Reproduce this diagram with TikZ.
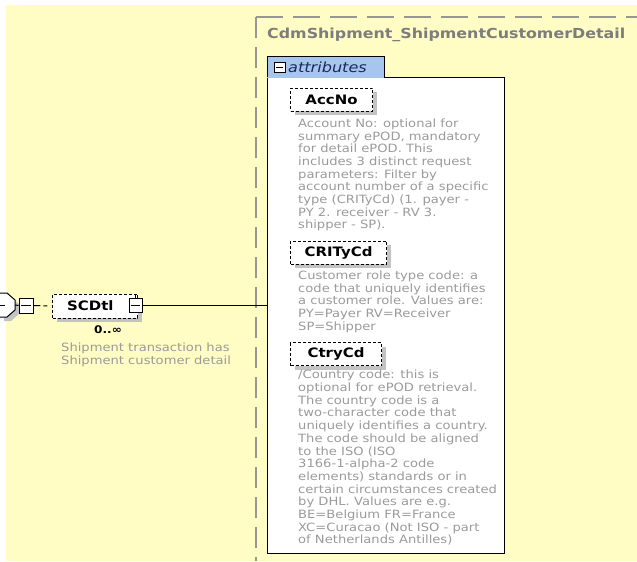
\documentclass[tikz,border=0pt]{standalone}
\usepackage{fontspec}
\setmainfont{DejaVu Sans}
\newfontfamily\xfont[FakeStretch=1.15]{DejaVu Sans}
\usetikzlibrary{shadows}
\definecolor{bgyellow}{RGB}{255,253,196}
\definecolor{tabblue}{RGB}{166,198,238}
\definecolor{descgray}{RGB}{155,155,155}
\definecolor{framegray}{RGB}{150,150,150}
\definecolor{titlegray}{RGB}{125,125,125}
\definecolor{shadowgray}{RGB}{195,195,195}
\definecolor{tabtext}{RGB}{30,40,90}
\begin{document}
\begin{tikzpicture}[x=1pt,y=-1pt,
 attrbox/.style={draw=black, line width=1pt, dash pattern=on 3pt off 2pt, fill=white,
   minimum height=23pt, inner sep=0pt, anchor=west,
   font=\xfont\bfseries\fontsize{13}{15}\selectfont,
   drop shadow={shadow xshift=4pt, shadow yshift=-4pt, fill=shadowgray, opacity=1}},
 desc/.style={anchor=north west, inner sep=0pt, align=left, text=descgray,
   font=\xfont\fontsize{11.4}{12.7}\selectfont},
 icon/.style={draw=black, line width=0.9pt, fill=white, minimum width=13pt,
   minimum height=14pt, inner sep=0pt},
]
\useasboundingbox (0,0) rectangle (637,562);
\fill[white] (0,0) rectangle (637,562);
\fill[bgyellow] (6,5) rectangle (637,561);

% dashed frame of the complex type
\coordinate (fc) at (256,17);
\coordinate (fr) at (637,17);
\coordinate (fb) at (256,561);
\draw[framegray, line width=1.2pt, dash pattern=on 27pt off 10pt] (fc) -- (fr);
\draw[framegray, line width=1.2pt, dash pattern=on 21pt off 9pt] (fc) -- (fb);

\node[anchor=base west, inner sep=0pt, text=titlegray,
  font=\xfont\bfseries\fontsize{13.8}{16}\selectfont] (title) at (267,38)
  {CdmShipment\_ShipmentCustomerDetail};

% attributes panel
\node[draw=black, line width=1.3pt, fill=white, minimum width=237pt, minimum height=476pt,
  anchor=north west, inner sep=0pt] (attrpanel) at (267,77) {};
\fill[tabblue] (267,56) rectangle (384,77.6);
\draw[black, line width=1pt] (267,77) -- (267,56) -- (384,56) -- (384,77);
\node[draw=black, line width=0.8pt, fill=white, minimum width=11pt, minimum height=10pt,
  inner sep=0pt] (tabicon) at (279.5,67) {};
\draw[line width=0.9pt] ([xshift=2.2pt]tabicon.west) -- ([xshift=-2.2pt]tabicon.east);
\node[anchor=base west, inner sep=0pt, text=tabtext,
  font=\xfont\itshape\fontsize{14}{16}\selectfont] (tabtitle) at (288,72) {attributes};

\node[attrbox, minimum width=82pt] (accno) at (290,99.5) {AccNo};
\node[desc] (accnodesc) at (298,118.5) {Account No: optional for\\
summary ePOD, mandatory\\
for detail ePOD. This\\
includes 3 distinct request\\
parameters: Filter by\\
account number of a specific\\
type (CRITyCd) (1. payer -\\
PY 2. receiver - RV 3.\\
shipper - SP).};

\node[attrbox, minimum width=96pt] (critycd) at (290,252.5) {CRITyCd};
\node[desc] (critycddesc) at (298,270.5) {Customer role type code: a\\
code that uniquely identifies\\
a customer role. Values are:\\
PY=Payer RV=Receiver\\
SP=Shipper};

\node[attrbox, minimum width=91pt] (ctrycd) at (290,354) {CtryCd};
\node[desc] (ctrycddesc) at (298,370) {/Country code: this is\\
optional for ePOD retrieval.\\
The country code is a\\
two-character code that\\
uniquely identifies a country.\\
The code should be aligned\\
to the ISO (ISO\\
3166-1-alpha-2 code\\
elements) standards or in\\
certain circumstances created\\
by DHL. Values are e.g.\\
BE=Belgium FR=France\\
XC=Curacao (Not ISO - part\\
of Netherlands Antilles)};

% left part: sequence compositor fragment
\fill[shadowgray] (4,297) -- (11,297) -- (19,304) -- (19,314) -- (11,321) -- (4,321) -- cycle;
\fill[white] (0,293) -- (7,293) -- (15,300) -- (15,310) -- (7,317) -- (0,317) -- cycle;
\draw[black, line width=1pt] (0,293) -- (7,293) -- (15,300) -- (15,310) -- (7,317) -- (0,317);
\draw[black, line width=1pt] (0,305) -- (5,305);
\coordinate (seqR) at (15,305);
\node[icon, minimum width=14pt, minimum height=15pt] (seqicon) at (26,305.5) {};
\draw[line width=0.9pt] ([xshift=2pt]seqicon.west) -- ([xshift=-2pt]seqicon.east);
\draw[line width=1pt] (seqR) -- (seqicon.west);

\node[attrbox, minimum width=85pt, minimum height=24pt] (scdtl) at (52,306) {};
\node[anchor=west, inner sep=0pt, font=\xfont\bfseries\fontsize{13}{15}\selectfont]
  (scdtllabel) at (67,306) {SCDtl};
\draw[line width=1pt, dash pattern=on 7pt off 3pt on 4pt off 20pt] (seqicon.east) -- (scdtl.west);
\node[icon] (scdicon) at (135.5,305.5) {};
\draw[line width=0.9pt] ([xshift=2pt]scdicon.west) -- ([xshift=-2pt]scdicon.east);
\draw[line width=0.9pt] (scdicon.north) -- ++(0,-4);
\draw[line width=1pt] (scdicon.east) -- (scdicon.east -| attrpanel.west);

\node[inner sep=0pt, font=\xfont\bfseries\fontsize{10.5}{12}\selectfont] (card) at (108,330) {0..∞};
\node[desc] (scddesc) at (61,343) {Shipment transaction has\\Shipment customer detail};
\end{tikzpicture}
\end{document}
